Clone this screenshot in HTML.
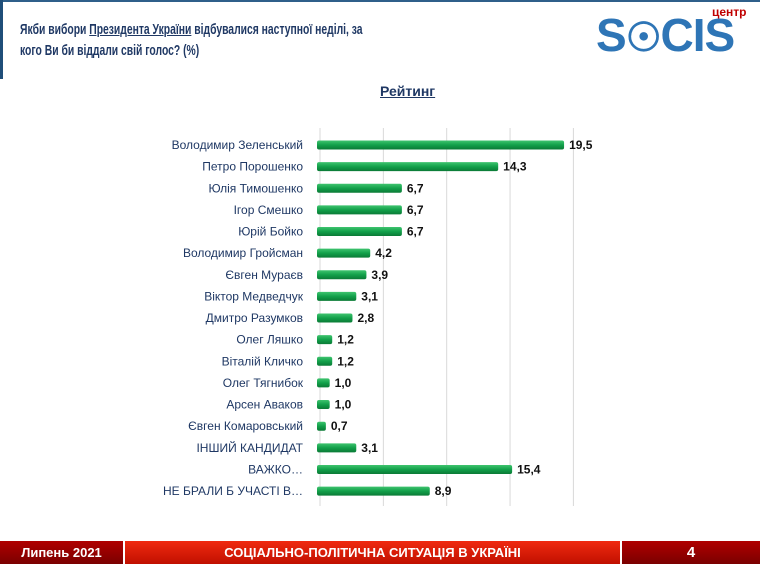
<!DOCTYPE html>
<html><head><meta charset="utf-8"><style>
body{margin:0;width:760px;height:564px;background:#fff;position:relative;overflow:hidden;font-family:"Liberation Sans",sans-serif}
.abs{position:absolute}
</style></head><body>
<div class="abs" style="left:0;top:0;width:760px;height:2px;background:#2f5f8a"></div>
<div class="abs" style="left:0;top:0;width:3px;height:79px;background:#1f4e79"></div>
<div class="abs" style="left:20px;top:19px;width:500px;font-size:15px;line-height:21px;font-weight:bold;color:#1f3864;transform:scaleX(0.69);transform-origin:0 0;white-space:nowrap">Якби вибори <span style="text-decoration:underline">Президента України</span> відбувалися наступної неділі, за<br>кого Ви би віддали свій голос? (%)</div>
<div class="abs" style="left:712px;top:5px;font-size:12px;font-weight:bold;color:#c00000">центр</div>
<div class="abs" style="left:596px;top:10px;font-size:46px;font-weight:bold;color:#2e75b6;letter-spacing:-1px;line-height:50px">S<span style="font-size:40px">☉</span>CIS</div>
<div class="abs" style="left:380px;top:83px;font-size:14px;font-weight:bold;color:#1f3864;text-decoration:underline">Рейтинг</div>
<svg class="abs" style="left:0;top:0" width="760" height="564">
<defs><linearGradient id="g" x1="0" y1="0" x2="0" y2="1"><stop offset="0" stop-color="#3fc46f"/><stop offset="0.5" stop-color="#12a04a"/><stop offset="1" stop-color="#0b7a36"/></linearGradient></defs>
<g id="grid"></g><g id="bars"></g>
</svg>
<div class="abs" style="left:0;top:541px;width:123px;height:23px;background:linear-gradient(#b00000,#7a0000);color:#fff;font-weight:bold;font-size:13px;line-height:23px;text-align:center">Липень 2021</div>
<div class="abs" style="left:125px;top:541px;width:495px;height:23px;background:linear-gradient(#f02a10,#c01000);color:#fff;font-weight:bold;font-size:13px;line-height:23px;text-align:center">СОЦІАЛЬНО-ПОЛІТИЧНА СИТУАЦІЯ В УКРАЇНІ</div>
<div class="abs" style="left:622px;top:541px;width:138px;height:23px;background:linear-gradient(#b00000,#7a0000);color:#fff;font-weight:bold;font-size:15px;line-height:23px;text-align:center">4</div>
<script>
const categories=["Володимир Зеленський","Петро Порошенко","Юлія Тимошенко","Ігор Смешко","Юрій Бойко","Володимир Гройсман","Євген Мураєв","Віктор Медведчук","Дмитро Разумков","Олег Ляшко","Віталій Кличко","Олег Тягнибок","Арсен Аваков","Євген Комаровський","ІНШИЙ КАНДИДАТ","ВАЖКО…","НЕ БРАЛИ Б УЧАСТІ В…"];
const values=[19.5,14.3,6.7,6.7,6.7,4.2,3.9,3.1,2.8,1.2,1.2,1.0,1.0,0.7,3.1,15.4,8.9];
const gridTicks=[0,5,10,15,20];
const NS="http://www.w3.org/2000/svg";
const x0=317,scale=12.67,y0=145,step=21.63,bh=9;
const xs=v=>x0+v*scale, ys=i=>y0+i*step;
const grid=document.getElementById('grid'),bars=document.getElementById('bars');
gridTicks.forEach(t=>{const l=document.createElementNS(NS,'line');


l.setAttribute('x1',xs(t)+3);l.setAttribute('x2',xs(t)+3);l.setAttribute('y1',128);l.setAttribute('y2',506);l.setAttribute('stroke','#d9d9d9');grid.appendChild(l);});
categories.forEach((c,i)=>{const y=ys(i);
const t=document.createElementNS(NS,'text');


t.setAttribute('x',303);t.setAttribute('y',y+4);t.setAttribute('text-anchor','end');t.setAttribute('font-size','12');t.setAttribute('fill','#1f3864');t.textContent=c;bars.appendChild(t);
const r=document.createElementNS(NS,'rect');


r.setAttribute('x',x0);r.setAttribute('y',y-bh/2);r.setAttribute('width',Math.max(1,xs(values[i])-x0));r.setAttribute('height',bh);r.setAttribute('rx',2);r.setAttribute('fill','url(#g)');bars.appendChild(r);
const v=document.createElementNS(NS,'text');


v.setAttribute('x',xs(values[i])+5);v.setAttribute('y',y+4);v.setAttribute('font-size','12');v.setAttribute('font-weight','bold');v.setAttribute('fill','#111');v.textContent=values[i].toFixed(1).replace('.',',');bars.appendChild(v);});
</script>
</body></html>
